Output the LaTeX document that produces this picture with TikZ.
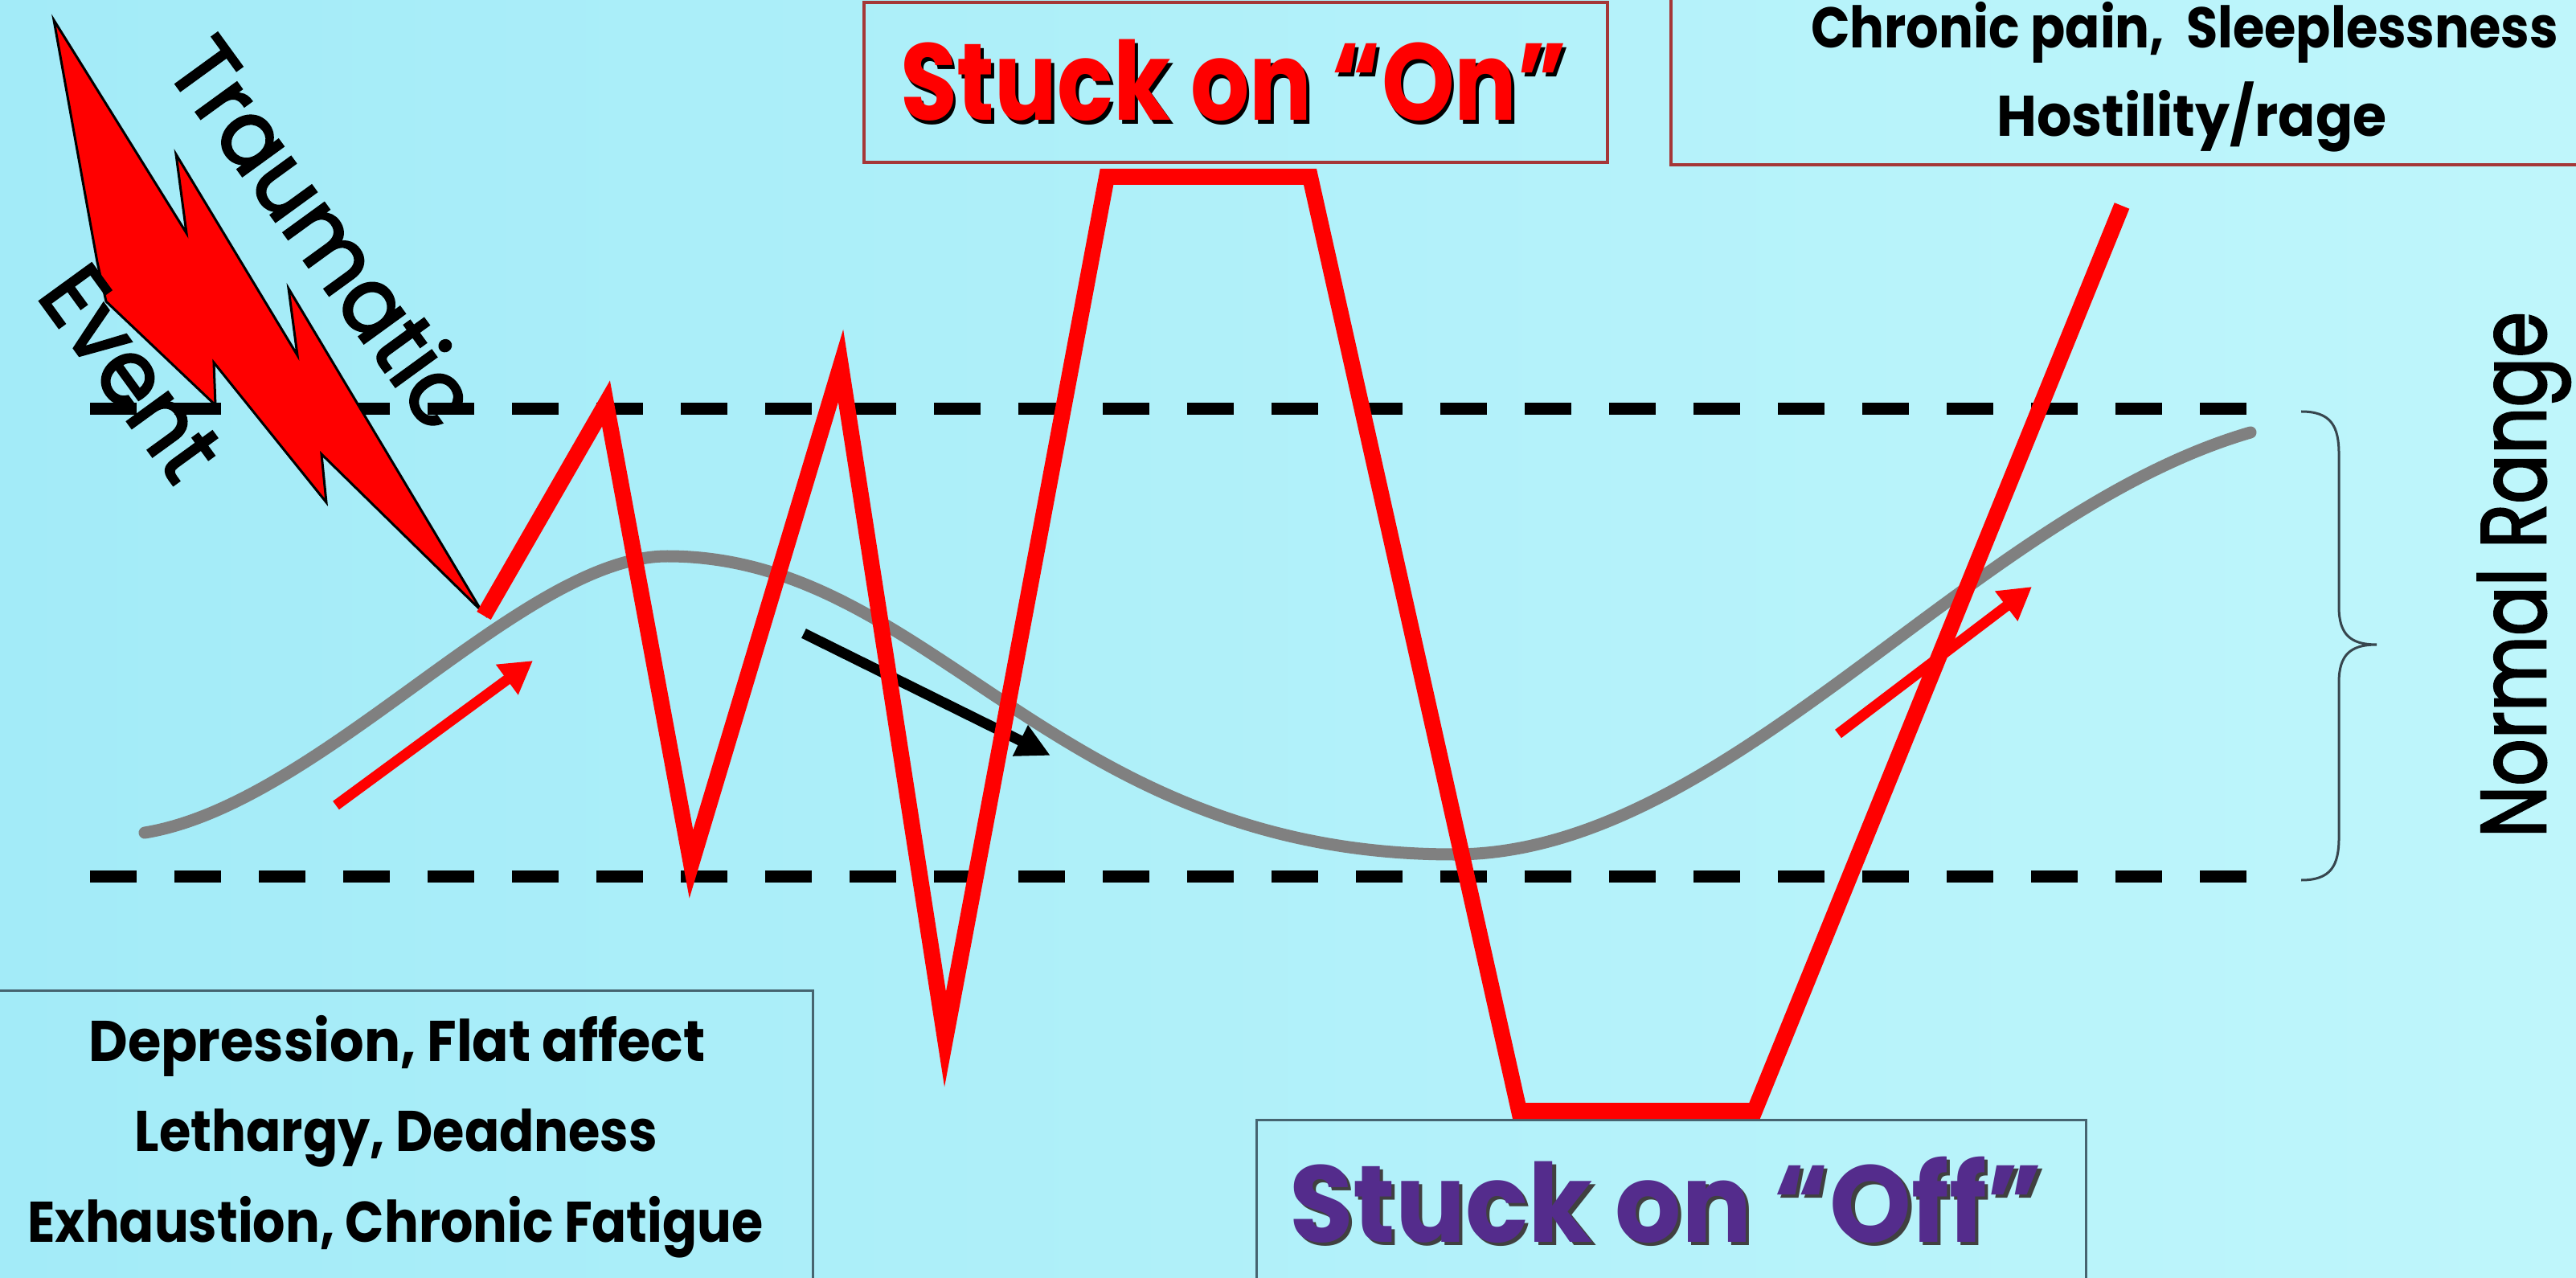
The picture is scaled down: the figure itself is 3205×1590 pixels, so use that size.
\documentclass[tikz,border=0pt]{standalone}
\usepackage{fontspec}
\setmainfont{Poppins}
\newfontfamily\gothic[FakeBold=2.5]{Poppins}
\usepackage{graphicx}
\usetikzlibrary{arrows.meta}
\definecolor{bgL}{RGB}{163,235,248}
\definecolor{bgR}{RGB}{191,246,251}
\definecolor{zred}{RGB}{255,0,0}
\definecolor{curvegray}{RGB}{128,128,128}
\definecolor{boxred}{RGB}{165,55,55}
\definecolor{boxblue}{RGB}{70,100,112}
\definecolor{offpurple}{RGB}{84,44,140}
\definecolor{bracegray}{RGB}{55,70,78}
\newcommand\fitw[2]{\resizebox{#1mm}{\height}{#2}}
\newcommand\shadowed[3]{\makebox[0pt][l]{\hspace{0.45mm}\raisebox{-0.45mm}{\textcolor{#2}{#3}}}\textcolor{#1}{#3}}
\newcommand\bigfont{\fontsize{38.6}{40}\selectfont\bfseries}
\newcommand\midfont{\fontsize{20.3}{22}\selectfont\bfseries}
\newcommand\ngfont{\gothic\fontsize{32.5}{34}\selectfont}
\begin{document}
\begin{tikzpicture}[x=0.1mm,y=-0.1mm,
  txt/.style={inner sep=0pt, outer sep=0pt, anchor=base},
  rtxt/.style={inner sep=0pt, outer sep=0pt, rotate=-54},
  zig/.style={draw=zred, line width=2mm, line join=miter, miter limit=12},
  dashline/.style={draw=black, line width=1.5mm, dash pattern=on 5.8mm off 4.7mm},
  graycurve/.style={draw=curvegray, line width=1.5mm, line cap=round},
  redarrow/.style={draw=zred, line width=1.3mm, -{Triangle[length=4mm,width=4.4mm]}},
  blackarrow/.style={draw=black, line width=1.3mm, -{Triangle[length=4.2mm,width=4mm]}},
  redframe/.style={draw=boxred, line width=0.35mm},
  blueframe/.style={draw=boxblue, line width=0.3mm},
  bolt/.style={fill=zred, draw=black, line width=0.3mm, line join=miter},
  bracestyle/.style={draw=bracegray, line width=0.3mm}]
\useasboundingbox (0,0) rectangle (3205,1590);
\shade[left color=bgL, right color=bgR] (0,0) rectangle (3205,1590);

% dashed range limits
\coordinate (d1s) at (112,509); \coordinate (d1e) at (2805,509);
\coordinate (d2s) at (112,1090); \coordinate (d2e) at (2805,1090);
\draw[dashline] (d1s) -- (d1e);
\draw[dashline] (d2s) -- (d2e);

% gray normal curve
\coordinate (g0) at (180,1036);
\coordinate (g1) at (830,692);
\coordinate (g2) at (1809,1063);
\coordinate (g3) at (2800,538);
\draw[graycurve] (g0) .. controls (400,1000) and (650,692) .. (g1)
  .. controls (1160,692) and (1309,1063) .. (g2)
  .. controls (2150,1063) and (2450,640) .. (g3);

% small arrows
\coordinate (ba1) at (1000,788); \coordinate (ba2) at (1307,940);
\draw[blackarrow] (ba1) -- (ba2);
\coordinate (ra1) at (418,1002); \coordinate (ra2) at (663,822);
\draw[redarrow] (ra1) -- (ra2);
\coordinate (rb1) at (2287,913); \coordinate (rb2) at (2528,730);
\draw[redarrow] (rb1) -- (rb2);

% frames
\draw[redframe] (1075,3) rectangle (2000,202);
\draw[redframe] (2079,-20) rectangle (3240,205);
\draw[blueframe] (-20,1232) rectangle (1011,1620);
\draw[blueframe] (1563,1393) rectangle (2595,1620);

% lightning bolt
\draw[bolt] (67,25) -- (232,290) -- (219,192) -- (370,442) -- (359,359) -- (599,760)
  -- (400,565) -- (406,625) -- (266,451) -- (268,504) -- (132,375) -- (121,326) -- cycle;

% red zigzag
\coordinate (z0) at (602,766);
\coordinate (z1) at (754,502);
\coordinate (z2) at (860,1075);
\coordinate (z3) at (1046,455);
\coordinate (z4) at (1176,1293);
\coordinate (z5) at (1377,220);
\coordinate (z6) at (1630,220);
\coordinate (z7) at (1890,1382);
\coordinate (z8) at (2183,1382);
\coordinate (z9) at (2640,256);
\draw[zig] (z0) -- (z1) -- (z2) -- (z3) -- (z4) -- (z5) -- (z6) -- (z7) -- (z8) -- (z9);

% brace
\draw[bracestyle] (2863,512) .. controls (2900,512) and (2910,530) .. (2910,565)
  -- (2910,755) .. controls (2910,790) and (2925,802) .. (2957,802)
  .. controls (2925,802) and (2910,814) .. (2910,849)
  -- (2910,1042) .. controls (2910,1077) and (2900,1095) .. (2863,1095);

% texts
\node[txt] (on) at (1535,150) {\bigfont\fitw{83}{\shadowed{zred}{black}{Stuck on “On”}}};
\node[txt] (off) at (2073,1545) {\bigfont\fitw{93.8}{\shadowed{offpurple}{black!75}{Stuck on “Off”}}};
\node[txt] (chron) at (2718,60) {\midfont\fitw{93}{Chronic pain,~ Sleeplessness}};
\node[txt] (host) at (2727,170) {\midfont\fitw{48.5}{Hostility/rage}};
\node[txt] (dep) at (494,1320) {\midfont\fitw{76.7}{Depression, Flat affect}};
\node[txt] (leth) at (493,1432) {\midfont\fitw{65}{Lethargy, Deadness}};
\node[txt] (exh) at (492,1545) {\midfont\fitw{91.5}{Exhaustion, Chronic Fatigue}};
\node[txt, rotate=90] (normal) at (3167,715) {\ngfont\fitw{65.4}{Normal Range}};
\node[rtxt] (trauma) at (405,288) {\ngfont\fitw{56.5}{Traumatic}};
\node[rtxt] (event) at (163,464) {\ngfont\fitw{29.5}{Event}};
\end{tikzpicture}
\end{document}
